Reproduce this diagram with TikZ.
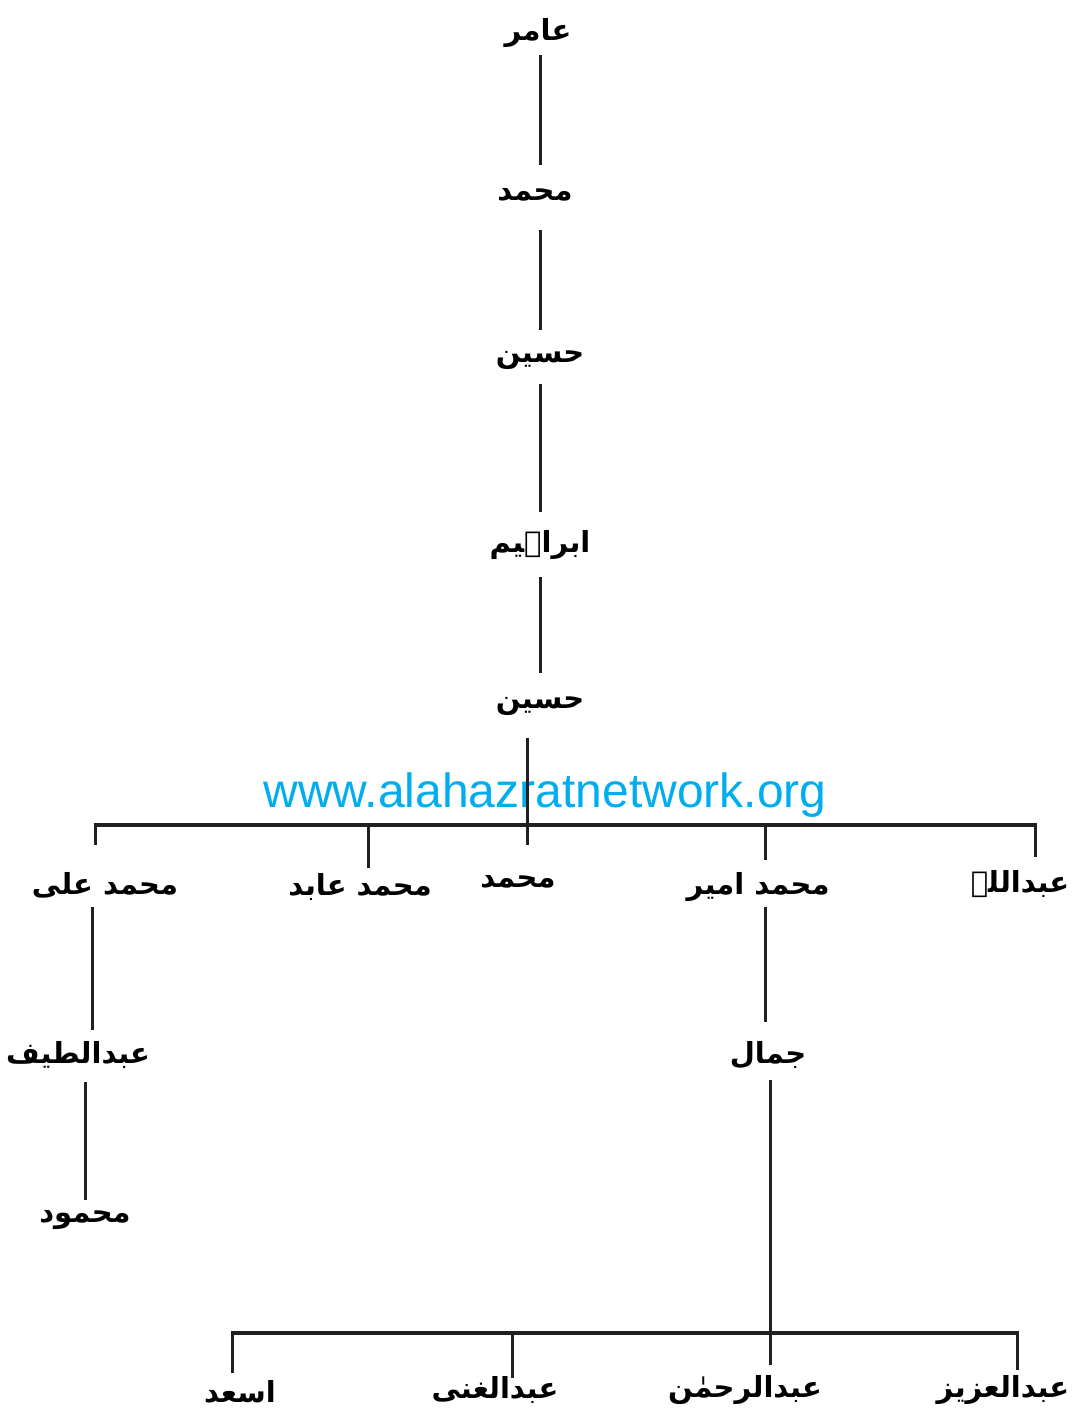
\documentclass[tikz,border=0pt]{standalone}
\usepackage{fontspec}
\setmainfont{Liberation Sans}
\newfontfamily\urfont[Script=Arabic]{DejaVu Sans}
\TeXXeTstate=1
\definecolor{inkline}{HTML}{202020}
\definecolor{webcyan}{HTML}{00AEEF}
\newcommand{\ur}[1]{{\urfont\bfseries\beginR #1\endR}}
\tikzset{
  nm/.style={inner sep=0pt, font=\urfont\fontsize{29}{31}\selectfont},
  link/.style={draw=inkline, line width=3pt},
  bar/.style={draw=inkline, line width=3.4pt}
}
\begin{document}
\begin{tikzpicture}[x=1pt,y=-1pt]
\useasboundingbox (0,0) rectangle (1077,1424);

% main line of descent
\node[nm] (amir)  at (538,33)  {\ur{عامر}};
\node[nm] (muh1)  at (535,195) {\ur{محمد}};
\node[nm] (hus1)  at (540,360) {\ur{حسین}};
\node[nm] (ibr)   at (540,545) {\ur{ابراہیم}};
\node[nm] (hus2)  at (540,706) {\ur{حسین}};

% watermark
\node[inner sep=0pt, text=webcyan, font=\fontsize{48}{50}\selectfont] (web) at (545,795) {www.alahazratnetwork.org};

% sons of the second Husain
\node[nm] (mali)  at (105,885)  {\ur{محمد علی}};
\node[nm] (abid)  at (360,887)  {\ur{محمد عابد}};
\node[nm] (muh2)  at (518,882)  {\ur{محمد}};
\node[nm] (amir2) at (758,887)  {\ur{محمد امیر}};
\node[nm] (abd)   at (1020,884) {\ur{عبداللہ}};

% further descendants
\node[nm] (latif) at (78,1055)  {\ur{عبدالطیف}};
\node[nm] (mahm)  at (85,1220)  {\ur{محمود}};
\node[nm] (jamal) at (768,1055) {\ur{جمال}};

\node[nm] (asad)  at (240,1392) {\ur{اسعد}};
\node[nm] (ghani) at (495,1390) {\ur{عبدالغنی}};
\node[nm] (rahm)  at (745,1390) {\ur{عبدالرحمٰن}};
\node[nm] (aziz)  at (1003,1390){\ur{عبدالعزیز}};

% vertical chain
\draw[link] ([xshift=2pt,yshift=-22pt]amir.center) -- ([xshift=5pt,yshift=30pt]muh1.center);
\draw[link] ([xshift=5pt,yshift=-35pt]muh1.center) -- ([yshift=30pt]hus1.center);
\draw[link] ([yshift=-24pt]hus1.center) -- ([yshift=33pt]ibr.center);
\draw[link] ([yshift=-32pt]ibr.center) -- ([yshift=33pt]hus2.center);
\draw[link] ([xshift=-13pt,yshift=-32pt]hus2.center) -- ([xshift=9pt,yshift=37pt]muh2.center);

% first branching bar
\coordinate (bL) at (95,825);
\coordinate (bR) at (1035,825);
\coordinate (bB) at (368,825);
\coordinate (bD) at (765,825);
\draw[bar] ([xshift=-1.5pt]bL) -- ([xshift=1.5pt]bR);
\draw[link] (bL) -- ([xshift=-10pt,yshift=40pt]mali.center);
\draw[link] (bB) -- ([xshift=8pt,yshift=19pt]abid.center);
\draw[link] (bD) -- ([xshift=7pt,yshift=27pt]amir2.center);
\draw[link] (bR) -- ([xshift=15pt,yshift=27pt]abd.center);

% lower lines
\draw[link] ([xshift=-13pt,yshift=-22pt]mali.center) -- ([xshift=14pt,yshift=25pt]latif.center);
\draw[link] ([xshift=7pt,yshift=-27pt]latif.center) -- ([yshift=20pt]mahm.center);
\draw[link] ([xshift=7pt,yshift=-20pt]amir2.center) -- ([xshift=-3pt,yshift=33pt]jamal.center);
\draw[link] ([xshift=2pt,yshift=-25pt]jamal.center) -- ([xshift=25pt,yshift=25pt]rahm.center);

% second branching bar
\coordinate (cL) at (232,1333);
\coordinate (cG) at (512,1333);
\coordinate (cR) at (1017,1333);
\draw[bar] ([xshift=-1.5pt]cL) -- ([xshift=1.5pt]cR);
\draw[link] (cL) -- ([xshift=-8pt,yshift=19pt]asad.center);
\draw[link] (cG) -- ([xshift=17pt,yshift=12pt]ghani.center);
\draw[link] (cR) -- ([xshift=14pt,yshift=20pt]aziz.center);
\end{tikzpicture}
\end{document}
